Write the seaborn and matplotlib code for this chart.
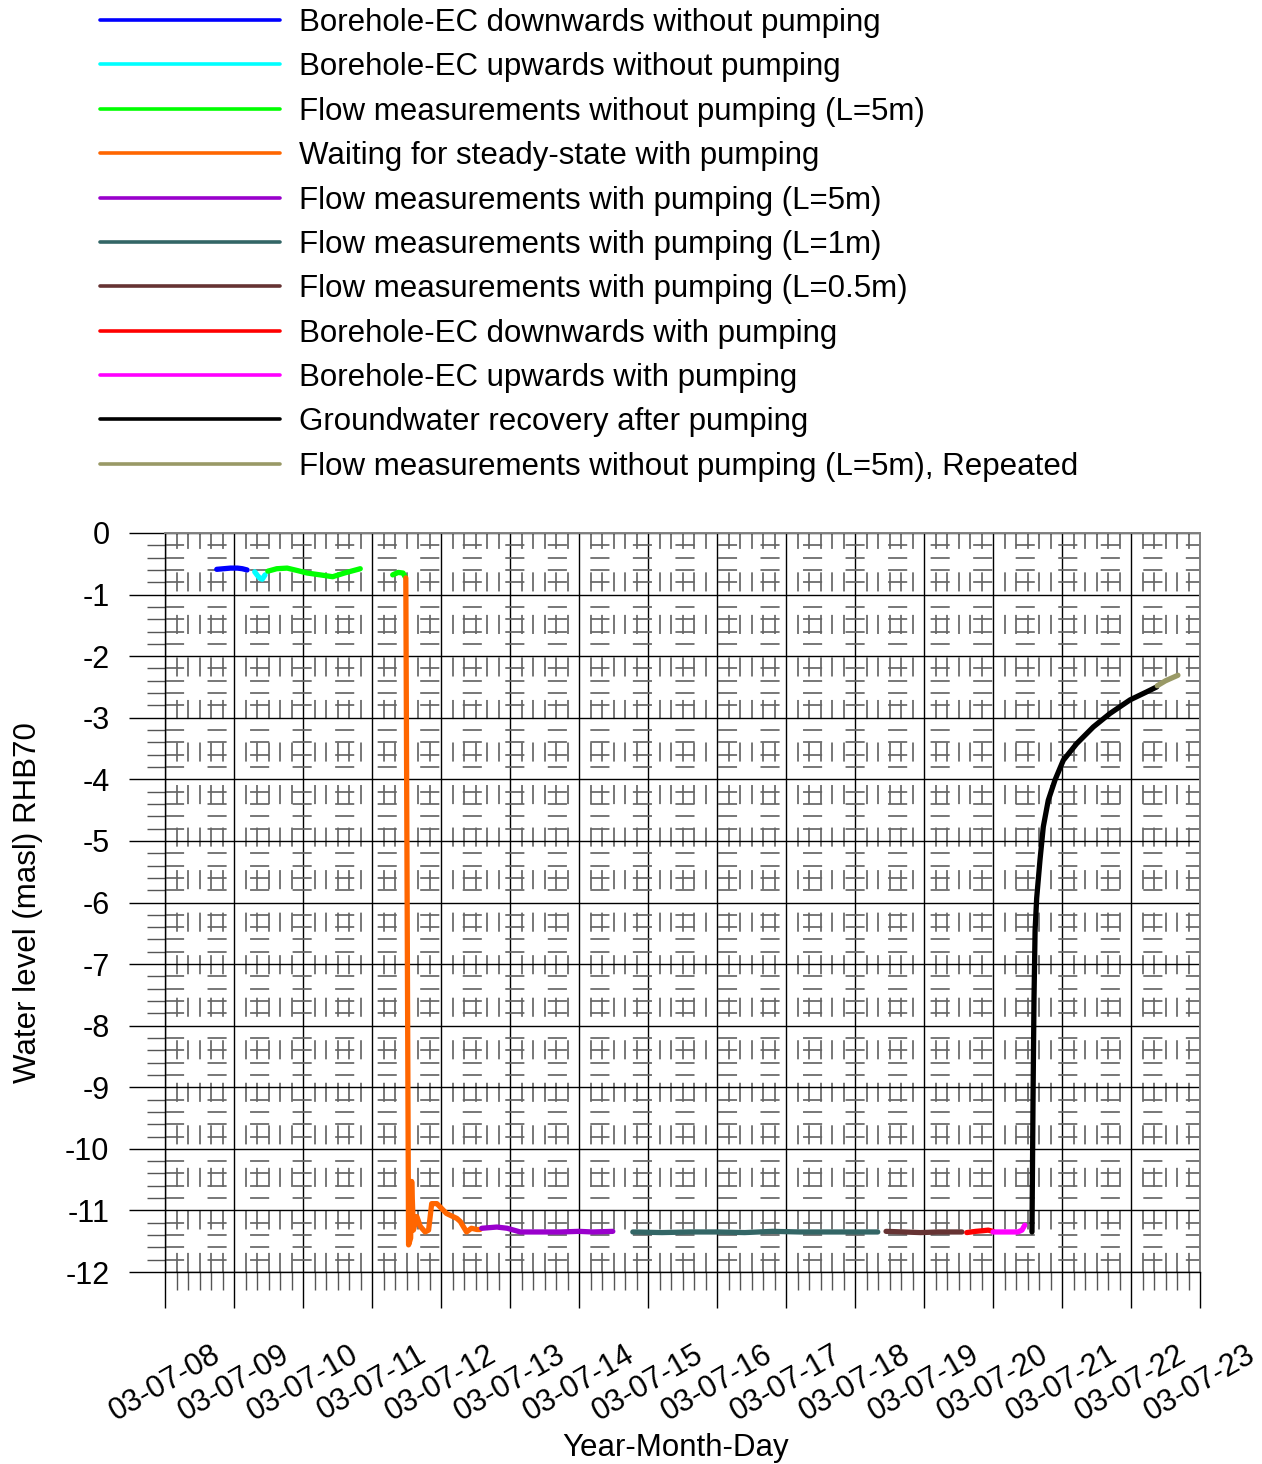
import numpy as np
import pandas as pd
import matplotlib
matplotlib.use("Agg")
import matplotlib.pyplot as plt
import matplotlib.dates as mdates
import seaborn as sns

# Time axis: fractional day of July 2003; levels in metres above sea level (RHB70)
ec_down_nopump_day = [8.75, 8.85, 8.95, 9.05, 9.12, 9.19]
ec_down_nopump_lvl = [-0.59, -0.58, -0.57, -0.57, -0.58, -0.60]

ec_up_nopump_day = [9.30, 9.34, 9.38, 9.41, 9.45]
ec_up_nopump_lvl = [-0.63, -0.69, -0.74, -0.75, -0.68]

flow5_nopump_day = [9.49, 9.62, 9.77, 9.92, 10.06, 10.25, 10.43, 10.60, 10.83]
flow5_nopump_lvl = [-0.62, -0.58, -0.57, -0.61, -0.65, -0.68, -0.71, -0.65, -0.58]
flow5_nopump_b_day = [11.30, 11.38, 11.45, 11.48]
flow5_nopump_b_lvl = [-0.68, -0.64, -0.65, -0.71]

waiting_day = [11.49, 11.53, 11.56, 11.575, 11.60, 11.65, 11.70, 11.77, 11.82,
               11.865, 11.94, 12.08, 12.23, 12.28, 12.37, 12.44, 12.52, 12.565]
waiting_lvl = [-0.73, -11.56, -11.45, -10.53, -11.32, -11.10, -11.26, -11.35, -11.32,
               -10.89, -10.89, -11.05, -11.13, -11.18, -11.35, -11.29, -11.31, -11.31]

flow5_pump_day = [12.59, 12.81, 12.96, 13.15, 13.40, 13.73, 14.00, 14.20, 14.49]
flow5_pump_lvl = [-11.29, -11.27, -11.29, -11.35, -11.35, -11.35, -11.34, -11.35, -11.34]

flow1_pump_day = [14.78, 15.2, 15.6, 16.0, 16.4, 16.8, 17.2, 17.6, 18.0, 18.33]
flow1_pump_lvl = [-11.35, -11.36, -11.35, -11.35, -11.36, -11.34, -11.35, -11.35, -11.35, -11.35]

flow05_pump_day = [18.45, 18.70, 18.95, 19.20, 19.55]
flow05_pump_lvl = [-11.34, -11.35, -11.36, -11.35, -11.35]

ec_down_pump_day = [19.62, 19.75, 19.85, 19.93, 20.00]
ec_down_pump_lvl = [-11.36, -11.34, -11.33, -11.32, -11.34]

ec_up_pump_day = [20.00, 20.20, 20.36, 20.42, 20.46]
ec_up_pump_lvl = [-11.35, -11.35, -11.35, -11.32, -11.24]

recovery_day = [20.565, 20.58, 20.594, 20.61, 20.633, 20.681, 20.729, 20.801, 20.899,
                21.019, 21.213, 21.453, 21.696, 21.986, 22.227, 22.372]
recovery_lvl = [-11.35, -9.21, -7.58, -6.45, -5.93, -5.31, -4.77, -4.34, -4.01,
                -3.69, -3.42, -3.15, -2.93, -2.71, -2.58, -2.50]

repeat_day = [22.38, 22.50, 22.68]
repeat_lvl = [-2.48, -2.40, -2.31]

series_names = [
    "Borehole-EC downwards without pumping",
    "Borehole-EC upwards without pumping",
    "Flow measurements without pumping (L=5m)",
    "Waiting for steady-state with pumping",
    "Flow measurements with pumping (L=5m)",
    "Flow measurements with pumping (L=1m)",
    "Flow measurements with pumping (L=0.5m)",
    "Borehole-EC downwards with pumping",
    "Borehole-EC upwards with pumping",
    "Groundwater recovery after pumping",
    "Flow measurements without pumping (L=5m), Repeated",
]
series_colors = ["#0000FF", "#00FFFF", "#00FF00", "#FF6600", "#9900CC", "#336666",
                 "#663333", "#FF0000", "#FF00FF", "#000000", "#999966"]

segments = [
    (series_names[0], ec_down_nopump_day, ec_down_nopump_lvl),
    (series_names[1], ec_up_nopump_day, ec_up_nopump_lvl),
    (series_names[2], flow5_nopump_day, flow5_nopump_lvl),
    (series_names[2], flow5_nopump_b_day, flow5_nopump_b_lvl),
    (series_names[3], waiting_day, waiting_lvl),
    (series_names[4], flow5_pump_day, flow5_pump_lvl),
    (series_names[5], flow1_pump_day, flow1_pump_lvl),
    (series_names[6], flow05_pump_day, flow05_pump_lvl),
    (series_names[7], ec_down_pump_day, ec_down_pump_lvl),
    (series_names[8], ec_up_pump_day, ec_up_pump_lvl),
    (series_names[9], recovery_day, recovery_lvl),
    (series_names[10], repeat_day, repeat_lvl),
]

frames = []
for seg_id, (name, days, lvls) in enumerate(segments):
    t = pd.Timestamp("2003-07-01") + pd.to_timedelta(np.asarray(days) - 1.0, unit="D")
    frames.append(pd.DataFrame({"time": t, "level": lvls, "series": name, "segment": seg_id}))
df = pd.concat(frames, ignore_index=True)

sns.set_style("white")
plt.rcParams["font.family"] = ["Liberation Sans", "DejaVu Sans"]
plt.rcParams["axes.unicode_minus"] = False
for key in ["text.color", "axes.labelcolor", "xtick.color", "ytick.color"]:
    plt.rcParams[key] = "black"
FS = 22.5
FS_TICK = 22

fig = plt.figure(figsize=(12.62, 14.64), dpi=100)
ax = fig.add_axes([165 / 1262, 1 - 1272 / 1464, 1035 / 1262, 739 / 1464])

sns.lineplot(data=df, x="time", y="level", hue="series", hue_order=series_names,
             palette=series_colors, units="segment", estimator=None, sort=False,
             lw=3.8, ax=ax, legend=True, zorder=5)

ax.set_xlim(pd.Timestamp("2003-07-08"), pd.Timestamp("2003-07-23"))
ax.set_ylim(-12, 0)

ax.xaxis.set_major_locator(mdates.DayLocator())
ax.xaxis.set_minor_locator(mdates.HourLocator(byhour=[4, 8, 12, 16, 20]))
ax.xaxis.set_major_formatter(mdates.DateFormatter("%y-%m-%d"))
ax.set_yticks(np.arange(-12, 1, 1))
ax.set_yticks(np.arange(-12, 0.01, 0.2), minor=True)
ax.set_yticklabels([str(v) for v in range(-12, 1)])

ax.grid(which="major", color="black", lw=1.0, zorder=1)
ax.grid(which="minor", color="#666666", lw=1.25, linestyle=(0, (11, 13.5)), zorder=1)

ax.tick_params(axis="both", which="both", bottom=True, left=True, top=False, right=False)
ax.tick_params(axis="both", which="major", direction="out", length=26, width=1.0,
               color="black", labelsize=FS_TICK)
ax.tick_params(axis="both", which="minor", direction="out", length=13, width=1.0,
               color="#555555")
ax.tick_params(axis="x", which="major", pad=23)
ax.tick_params(axis="y", which="major", pad=14)
for lab in ax.get_xticklabels():
    lab.set_rotation(30)
    lab.set_ha("center")
    lab.set_va("top")

for side in ["left", "bottom"]:
    ax.spines[side].set_color("black")
    ax.spines[side].set_linewidth(1.0)
for side in ["top", "right"]:
    ax.spines[side].set_color("#808080")
    ax.spines[side].set_linewidth(1.4)

ax.set_xlabel("Year-Month-Day", fontsize=FS)
ax.set_ylabel("Water level (masl) RHB70", fontsize=FS)
ax.xaxis.set_label_coords(0.493, -0.218)
ax.yaxis.set_label_coords(-0.118, 0.5)

handles, labels = ax.get_legend_handles_labels()
ax.get_legend().remove()
leg = fig.legend(handles, labels, loc="upper left", bbox_to_anchor=(100 / 1262, 0.9945),
                 frameon=False, fontsize=FS, borderpad=0, borderaxespad=0,
                 handlelength=5.76, handletextpad=0.61, labelspacing=0.46)
for line in leg.get_lines():
    line.set_linewidth(2.6)

fig.savefig("out.png", dpi=100)
